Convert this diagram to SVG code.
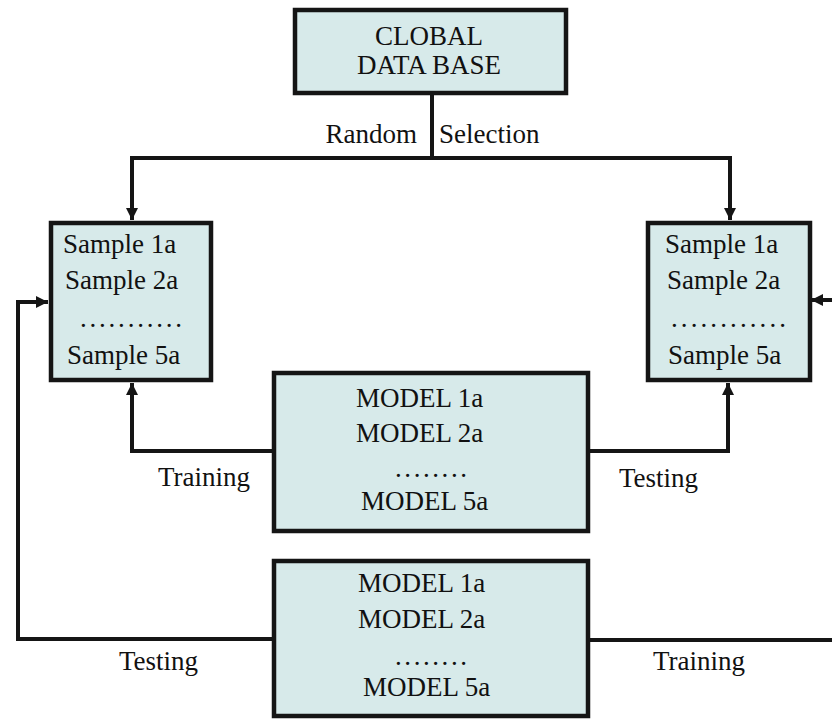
<svg xmlns="http://www.w3.org/2000/svg" width="832" height="719" viewBox="0 0 832 719">
<style>
.box{fill:#d7eaea;stroke:#151515;stroke-width:4.5}
.t{font-family:"Liberation Serif","Times New Roman",serif;font-size:27px;fill:#111}
.c{text-anchor:middle}
.ln{fill:none;stroke:#151515;stroke-width:4;stroke-linejoin:miter}
</style>
<defs>
<marker id="ah" markerUnits="userSpaceOnUse" markerWidth="14" markerHeight="14" refX="12" refY="6" orient="auto">
<path d="M0,0 L12,6 L0,12 Z" fill="#151515"/>
</marker>
</defs>
<rect width="832" height="719" fill="#ffffff"/>
<g id="connectors">
<path class="ln" d="M432,94 V158"/>
<path class="ln" d="M130,158 H732"/>
<path class="ln" d="M132,158 V220" marker-end="url(#ah)"/>
<path class="ln" d="M730,158 V220" marker-end="url(#ah)"/>
<path class="ln" d="M273,451 H132 V383" marker-end="url(#ah)"/>
<path class="ln" d="M589,451 H728 V383" marker-end="url(#ah)"/>
<path class="ln" d="M273,639 H18 V302 H48" marker-end="url(#ah)"/>
<path class="ln" d="M589,640 H834"/>
<path class="ln" d="M834,300 H811" marker-end="url(#ah)"/>
<text class="t" x="417" y="143" text-anchor="end">Random</text>
<text class="t" x="439" y="143">Selection</text>
<text class="t" x="158" y="486">Training</text>
<text class="t" x="619" y="487">Testing</text>
<text class="t" x="119" y="670">Testing</text>
<text class="t" x="653" y="670">Training</text>
</g>
<g id="global-db">
<rect class="box" x="295" y="10" width="271" height="83"/>
<text class="t c" x="429" y="45">CLOBAL</text>
<text class="t c" x="429" y="74">DATA BASE</text>
</g>
<g id="samples-left">
<rect class="box" x="51" y="223" width="160" height="157"/>
<text class="t" x="63" y="253">Sample 1a</text>
<text class="t" x="65" y="289">Sample 2a</text>
<text class="t" x="80" y="327" textLength="102" lengthAdjust="spacing">...........</text>
<text class="t" x="67" y="364">Sample 5a</text>
</g>
<g id="samples-right">
<rect class="box" x="648" y="223" width="162" height="157"/>
<text class="t" x="665" y="253">Sample 1a</text>
<text class="t" x="667" y="289">Sample 2a</text>
<text class="t" x="671" y="327" textLength="115" lengthAdjust="spacing">............</text>
<text class="t" x="668" y="364">Sample 5a</text>
</g>
<g id="models-top">
<rect class="box" x="274" y="373" width="314" height="158"/>
<text class="t" x="356" y="407">MODEL 1a</text>
<text class="t" x="356" y="442">MODEL 2a</text>
<text class="t" x="395" y="477" textLength="72" lengthAdjust="spacing">........</text>
<text class="t" x="361" y="510">MODEL 5a</text>
</g>
<g id="models-bottom">
<rect class="box" x="274" y="561" width="314" height="155"/>
<text class="t" x="358" y="592">MODEL 1a</text>
<text class="t" x="358" y="628">MODEL 2a</text>
<text class="t" x="395" y="665" textLength="72" lengthAdjust="spacing">........</text>
<text class="t" x="363" y="696">MODEL 5a</text>
</g>
</svg>
